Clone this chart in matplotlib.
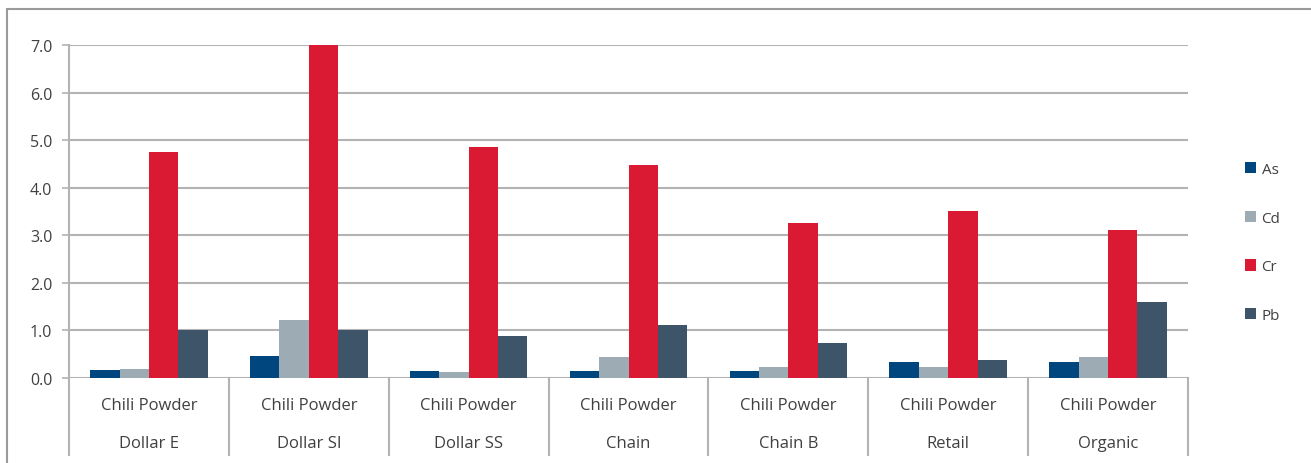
import matplotlib
matplotlib.use("Agg")
import matplotlib.pyplot as plt
import matplotlib.transforms as mtransforms
from matplotlib.patches import Rectangle
import numpy as np

# ── DATA ────────────────────────────────────────────────────────────────────
stores  = ["Dollar E", "Dollar SI", "Dollar SS", "Chain", "Chain B", "Retail", "Organic"]
product = "Chili Powder"
metals  = ["As", "Cd", "Cr", "Pb"]

as_vals = [0.17, 0.46, 0.15, 0.15, 0.15, 0.34, 0.34]
cd_vals = [0.18, 1.21, 0.13, 0.45, 0.23, 0.23, 0.45]
cr_vals = [4.76, 7.05, 4.86, 4.48, 3.26, 3.51, 3.11]
pb_vals = [1.00, 1.00, 0.88, 1.12, 0.74, 0.38, 1.60]

y_ticks = [0, 1, 2, 3, 4, 5, 6, 7]
# ────────────────────────────────────────────────────────────────────────────

colors = ["#00467E", "#9DABB5", "#DA1A32", "#3E5468"]
grid_c = "#B3B3B3"
text_c = "#404040"

plt.rcParams["font.family"] = ["Open Sans", "DejaVu Sans"]

W, H = 1311, 464
fig = plt.figure(figsize=(W / 100, H / 100), dpi=100)
ax = fig.add_axes([69 / W, 1 - 379 / H, (1188 - 69) / W, (379 - 46) / H])

# outer frame of the chart object
fig.patches.append(Rectangle((7 / W, -0.05), 1.05, 1 - 10 / H + 0.05,
                             transform=fig.transFigure, fill=False,
                             edgecolor="#9A9A9A", linewidth=1.5, zorder=0))

x = np.arange(len(stores))
bw = 0.184
series = [as_vals, cd_vals, cr_vals, pb_vals]
for i, (name, vals) in enumerate(zip(metals, series)):
    ax.bar(x + (i - 1.5) * bw, vals, width=bw, color=colors[i],
           label=name, zorder=3, linewidth=0)

ax.set_xlim(-0.5, len(stores) - 0.5)
ax.set_ylim(0, 7)
ax.set_yticks(y_ticks)
ax.set_yticklabels([f"{v:.1f}" for v in y_ticks], fontsize=11.5, color=text_c)
ax.yaxis.grid(True, color=grid_c, linewidth=1.5, zorder=0)
ax.tick_params(axis="y", length=5, width=1.2, color=grid_c, pad=7)

for s in ["top", "right", "bottom"]:
    ax.spines[s].set_visible(False)
ax.spines["left"].set_color(grid_c)
ax.spines["left"].set_linewidth(1.5)

# category axis: separators + two-level labels
ax.set_xticks([])
trans = mtransforms.blended_transform_factory(ax.transData, ax.transAxes)
px = 1 / (379 - 46)
for b in np.arange(-0.5, len(stores), 1.0):
    ax.plot([b, b], [0, -77 * px], transform=trans, color=grid_c,
            linewidth=1.5, clip_on=False)
for xi, store in zip(x, stores):
    ax.text(xi, -27 * px, product, transform=trans, ha="center", va="center",
            fontsize=12, color=text_c)
    ax.text(xi, -65 * px, store, transform=trans, ha="center", va="center",
            fontsize=12, color=text_c)

leg = ax.legend(loc="center left", bbox_to_anchor=(1231 / W, 1 - 243.5 / H),
                bbox_transform=fig.transFigure, frameon=False, fontsize=11,
                handlelength=0.75, handleheight=0.75, handletextpad=0.35,
                labelspacing=2.2, labelcolor=text_c)

fig.savefig("out.png", dpi=100)
